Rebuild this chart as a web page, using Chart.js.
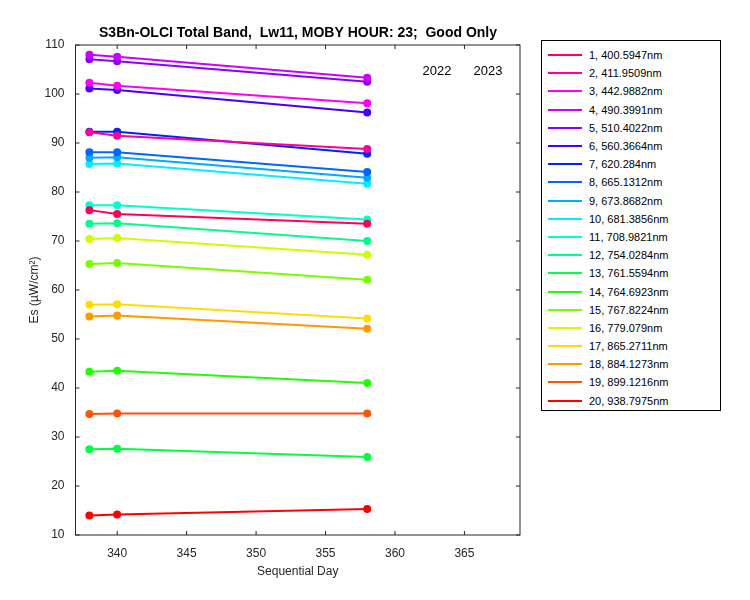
<!DOCTYPE html>
<html><head><meta charset="utf-8">
<script src="https://cdn.jsdelivr.net/npm/chart.js@4"></script>
<style>
body{margin:0;background:#fff;font-family:"Liberation Sans",Arial,sans-serif}
#wrap{position:relative;width:750px;height:600px}
#legend{position:absolute;left:541px;top:40px;width:180px;height:371px;border:1px solid #000;box-sizing:border-box;background:#fff;font-size:11px;padding-top:5px}
.row{height:18.2px;display:flex;align-items:center}
.sw{width:34px;height:2px;margin-left:6px;margin-right:7px}
</style></head><body>
<div id="wrap"><canvas id="c" width="750" height="600"></canvas><div id="legend"></div></div>
<script>
const days=[338,340,358];
const labels=["1, 400.5947nm","2, 411.9509nm","3, 442.9882nm","4, 490.3991nm","5, 510.4022nm","6, 560.3664nm","7,  620.284nm","8, 665.1312nm","9, 673.8682nm","10, 681.3856nm","11, 708.9821nm","12, 754.0284nm","13, 761.5594nm","14, 764.6923nm","15, 767.8224nm","16,  779.079nm","17, 865.2711nm","18, 884.1273nm","19, 899.1216nm","20, 938.7975nm"];
const colors=["#ff0055","#ff0099","#ff00ee","#cc00ff","#8800ff","#4400ff","#0022ff","#0066ff","#00aaff","#00eeff","#00ffcc","#00ff88","#00ff44","#22ff00","#77ff00","#ccff00","#ffdd00","#ff9900","#ff5500","#ff0000"];
const s1=[76.3,75.5,73.5], s2=[92.2,91.5,88.8], s3=[102.3,101.7,98.1], s4=[108.0,107.6,103.3],
s5=[107.1,106.7,102.5], s6=[101.1,100.8,96.2], s7=[92.3,92.3,87.8], s8=[88.1,88.1,84.1],
s9=[87.0,87.1,82.9], s10=[85.7,85.8,81.7], s11=[77.3,77.3,74.4], s12=[73.5,73.6,70.0],
s13=[27.5,27.6,25.9], s14=[43.3,43.5,41.0], s15=[65.3,65.5,62.1], s16=[70.4,70.6,67.2],
s17=[57.0,57.1,54.2], s18=[54.6,54.8,52.1], s19=[34.7,34.8,34.8], s20=[14.0,14.2,15.3];
const series=[s1,s2,s3,s4,s5,s6,s7,s8,s9,s10,s11,s12,s13,s14,s15,s16,s17,s18,s19,s20];
const lg=document.getElementById('legend');
labels.forEach((l,i)=>{lg.innerHTML+=`<div class="row"><div class="sw" style="background:${colors[i]}"></div><span>${l}</span></div>`;});
const FONT='"Liberation Sans",Arial,sans-serif';
const deco={id:'deco',afterDraw(ch){const c=ch.ctx,a=ch.chartArea;c.save();
c.strokeStyle='#262626';c.lineWidth=1;c.strokeRect(a.left,a.top,a.right-a.left,a.bottom-a.top);
const xs=ch.scales.x,ys=ch.scales.y;
for(let v=340;v<=365;v+=5){const x=xs.getPixelForValue(v);c.beginPath();c.moveTo(x,a.bottom);c.lineTo(x,a.bottom-4);c.moveTo(x,a.top);c.lineTo(x,a.top+4);c.stroke();}
for(let v=10;v<=110;v+=10){const y=ys.getPixelForValue(v);c.beginPath();c.moveTo(a.left,y);c.lineTo(a.left+4,y);c.moveTo(a.right,y);c.lineTo(a.right-4,y);c.stroke();}
c.fillStyle='#000';c.font='bold 14px '+FONT;c.textAlign='center';c.textBaseline='middle';
c.fillText('S3Bn-OLCI Total Band,  Lw11, MOBY HOUR: 23;  Good Only',298,33);
c.font='13px '+FONT;c.fillText('2022',437,71);c.fillText('2023',488,71);
c.fillStyle='#262626';c.font='12px '+FONT;
c.fillText('Sequential Day',(a.left+a.right)/2,572);
c.translate(35,(a.top+a.bottom)/2);c.rotate(-Math.PI/2);c.fillText('Es (µW/cm²)',0,0);
c.restore();}};
new Chart(document.getElementById('c'),{type:'line',
data:{datasets:series.map((s,i)=>({label:labels[i],data:s.map((v,j)=>({x:days[j],y:v})),borderColor:colors[i],backgroundColor:colors[i],borderWidth:2,pointRadius:3,pointHoverRadius:3}))},
options:{responsive:false,animation:false,layout:{padding:{left:0,right:230,top:45,bottom:0}},
plugins:{legend:{display:false},tooltip:{enabled:false}},
scales:{
x:{type:'linear',min:337,max:369,grid:{display:false},border:{display:false},afterFit(s){s.height=65;},
ticks:{stepSize:5,color:'#262626',font:{size:12,family:FONT},callback:v=>v%5===0&&v>=340?v:''}},
y:{min:10,max:110,grid:{display:false},border:{display:false},afterFit(s){s.width=75.5;},
ticks:{stepSize:10,color:'#262626',font:{size:12,family:FONT}}}}},
plugins:[deco]});
</script></body></html>
